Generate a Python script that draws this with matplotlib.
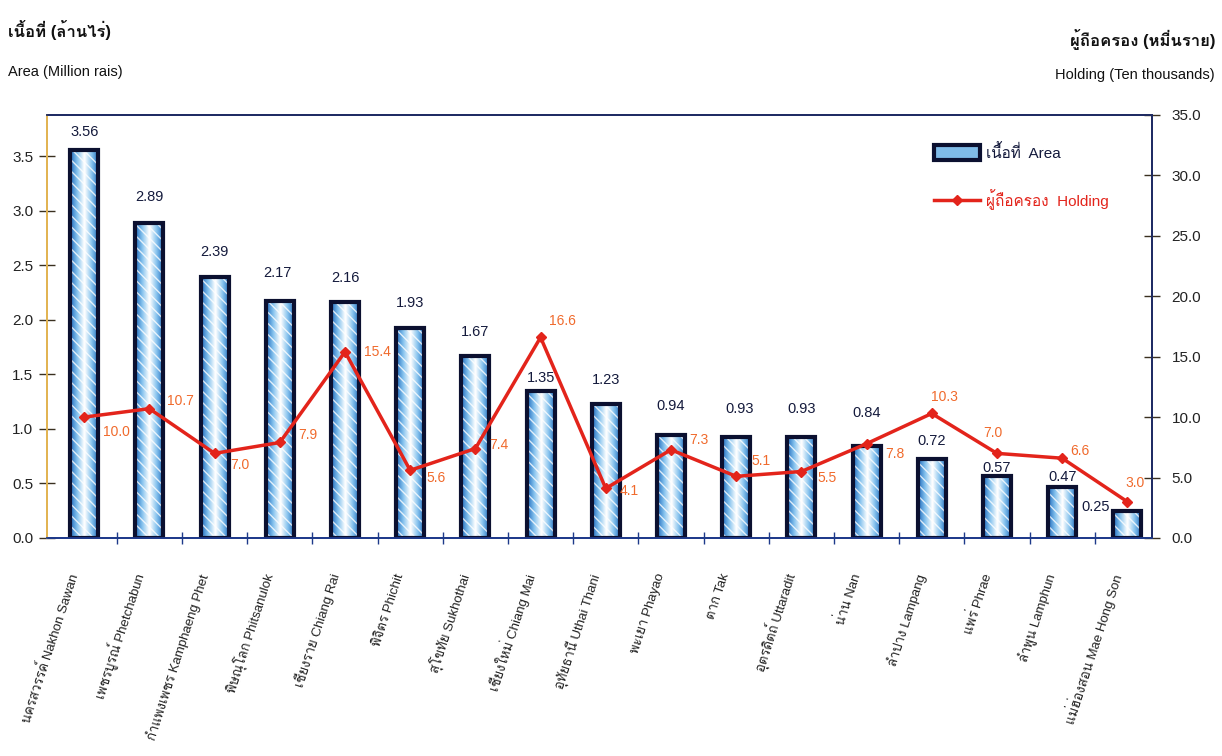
import numpy as np
import matplotlib
matplotlib.use("Agg")
import matplotlib.pyplot as plt
import matplotlib.transforms as mtransforms
from matplotlib import font_manager as fm
from matplotlib.ft2font import FT2Font
from matplotlib.colors import LinearSegmentedColormap
from matplotlib.patches import Patch
from matplotlib.lines import Line2D

# ---------------- data ----------------
provinces_th = ["นครสวรรค์", "เพชรบูรณ์", "กำแพงเพชร", "พิษณุโลก", "เชียงราย", "พิจิตร",
                "สุโขทัย", "เชียงใหม่", "อุทัยธานี", "พะเยา", "ตาก", "อุตรดิตถ์",
                "น่าน", "ลำปาง", "แพร่", "ลำพูน", "แม่ฮ่องสอน"]
provinces_en = ["Nakhon Sawan", "Phetchabun", "Kamphaeng Phet", "Phitsanulok", "Chiang Rai",
                "Phichit", "Sukhothai", "Chiang Mai", "Uthai Thani", "Phayao", "Tak",
                "Uttaradit", "Nan", "Lampang", "Phrae", "Lamphun", "Mae Hong Son"]
area = [3.56, 2.89, 2.39, 2.17, 2.16, 1.93, 1.67, 1.35, 1.23, 0.94, 0.93, 0.93,
        0.84, 0.72, 0.57, 0.47, 0.25]
holding = [10.0, 10.7, 7.0, 7.9, 15.4, 5.6, 7.4, 16.6, 4.1, 7.3, 5.1, 5.5,
           7.8, 10.3, 7.0, 6.6, 3.0]
area_ticks = [0.0, 0.5, 1.0, 1.5, 2.0, 2.5, 3.0, 3.5]
holding_ticks = [0.0, 5.0, 10.0, 15.0, 20.0, 25.0, 30.0, 35.0]

# label offsets in pixels (layout only)
area_lbl_off = [(0, 18), (0, 26), (0, 25), (-2, 28), (0, 24), (0, 25), (0, 24), (0, 13),
                (0, 24), (0, 29), (3, 28), (0, 28), (0, 33), (0, 18), (0, 8), (0, 10), (-32, 4)]
hold_lbl_off = [(32, -15), (31, 8), (25, -12), (28, 7), (32, 0), (26, -8), (23, 4), (22, 16),
                (23, -3), (28, 10), (25, 15), (26, -6), (28, -10), (13, 16), (-4, 20), (18, 7), (8, 19)]

# ---------------- fonts ----------------
def find_thai_family():
    for f in fm.fontManager.ttflist:
        try:
            if 0x0E19 in FT2Font(f.fname).get_charmap():
                return f.name
        except Exception:
            pass
    return None

thai = find_thai_family()
families = ["Liberation Sans"] + ([thai] if thai else []) + ["DejaVu Sans"]
plt.rcParams["font.family"] = families

NAVY = "#141a3c"
RED = "#e3241b"
ORANGE = "#f06a2c"

fig = plt.figure(figsize=(12.22, 7.56), dpi=100)
ax = fig.add_axes([0.0385, 0.2884, 0.9043, 0.5595])
ax2 = ax.twinx()

x = np.arange(len(area))
w = 0.43

# bars: gradient fill + white wave hatch + dark outline
bars = ax.bar(x, area, width=w, color="#7fbbe8", edgecolor="none", zorder=2)
cmap = LinearSegmentedColormap.from_list("bl", ["#ffffff", "#86c3ee", "#1c68bd"])
grad = np.abs(np.linspace(-1, 1, 64))[None, :]
for b in bars:
    im = ax.imshow(grad, extent=[b.get_x(), b.get_x() + b.get_width(), 0, b.get_height()],
                   cmap=cmap, aspect="auto", zorder=2, interpolation="bilinear")
    im.set_clip_path(b)
ax.bar(x, area, width=w, facecolor="none", edgecolor="white", linewidth=0,
       hatch="\\\\\\", zorder=3, alpha=0.8)
ax.bar(x, area, width=w, fill=False, edgecolor="#0b1030", linewidth=3, zorder=4)

for xi, v, (dx, dy) in zip(x, area, area_lbl_off):
    ax.annotate(f"{v:.2f}", (xi, v), xytext=(dx, dy), textcoords="offset pixels",
                ha="center", va="center", fontsize=10.5, color=NAVY, zorder=6)

# holding line
ax2.plot(x, holding, color=RED, lw=2.5, marker="D", ms=5, zorder=5)
for xi, v, (dx, dy) in zip(x, holding, hold_lbl_off):
    ax2.annotate(f"{v:.1f}", (xi, v), xytext=(dx, dy), textcoords="offset pixels",
                 ha="center", va="center", fontsize=10, color=ORANGE, zorder=6)

# axes limits & ticks
ax.set_xlim(-0.57, 16.38)
ax.set_ylim(0, 3.88)
ax2.set_ylim(0, 35)
ax.set_yticks(area_ticks)
ax.set_yticklabels([f"{t:.1f}" for t in area_ticks])
ax2.set_yticks(holding_ticks)
ax2.set_yticklabels([f"{t:.1f}" for t in holding_ticks])
ax.tick_params(axis="y", direction="inout", length=12, width=1, color="#3a3020",
               labelsize=11, pad=4, labelcolor="#222222")
ax2.tick_params(axis="y", direction="inout", length=12, width=1, color="#3a3020",
                labelsize=11, pad=8, labelcolor="#222222")

ax.set_xticks(x)
ax.set_xticklabels([f"{t} {e}" for t, e in zip(provinces_th, provinces_en)],
                   rotation=72, ha="right", va="center", rotation_mode="anchor",
                   fontsize=9.5, color="#222222")
ax.tick_params(axis="x", which="major", length=0, pad=26)
ax.set_xticks(x[:-1] + 0.5, minor=True)
ax.tick_params(axis="x", which="minor", direction="inout", length=9, width=1, color="#1e3a8a")
shift = mtransforms.ScaledTranslation(-10 / 100, 0, fig.dpi_scale_trans)
for lbl in ax.get_xticklabels():
    lbl.set_transform(lbl.get_transform() + shift)

for a in (ax, ax2):
    a.spines["left"].set_color("#e2b452")
    a.spines["top"].set_color("#1e2b63")
    a.spines["right"].set_color("#1e2b63")
    a.spines["bottom"].set_color("#1e3a8a")
    for s in a.spines.values():
        s.set_linewidth(1.3)

# legend
h_area = Patch(facecolor="#7fbbe8", edgecolor="#0b1030", linewidth=3)
h_hold = Line2D([], [], color=RED, lw=2.5, marker="D", ms=5)
leg = ax2.legend([h_area, h_hold], ["เนื้อที่  Area", "ผู้ถือครอง  Holding"],
                 loc="upper left", bbox_to_anchor=(0.79, 0.965), frameon=False,
                 fontsize=11, handlelength=3.0, handleheight=1.2, labelspacing=1.9,
                 handletextpad=0.4)
leg.get_texts()[0].set_color(NAVY)
leg.get_texts()[1].set_color(RED)

# axis titles
fig.text(8 / 1222, 1 - 30 / 756, "เนื้อที่ (ล้านไร่)", fontsize=12, fontweight="bold",
         color="#111111", ha="left", va="center")
fig.text(8 / 1222, 1 - 72 / 756, "Area (Million rais)", fontsize=10.5,
         color="#111111", ha="left", va="center")
fig.text(1215 / 1222, 1 - 40 / 756, "ผู้ถือครอง (หมื่นราย)", fontsize=12, fontweight="bold",
         color="#111111", ha="right", va="center")
fig.text(1215 / 1222, 1 - 75 / 756, "Holding (Ten thousands)", fontsize=10.5,
         color="#111111", ha="right", va="center")

fig.savefig("out.png", dpi=100)
